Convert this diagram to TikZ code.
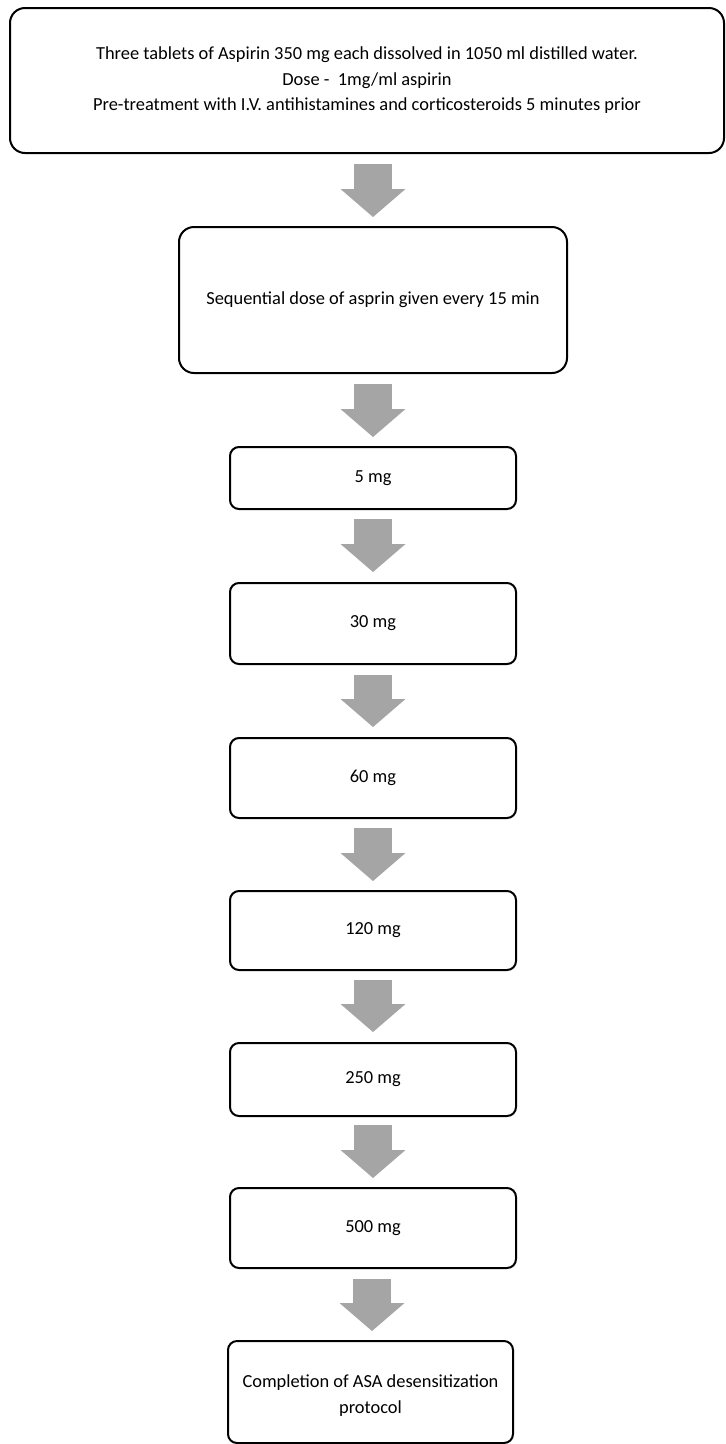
\documentclass[tikz,border=0pt]{standalone}
\usepackage{fontspec}
\setmainfont{Carlito}
\usepackage{tikz}
\usetikzlibrary{arrows.meta,calc}
\definecolor{flowgray}{RGB}{165,165,165}
\tikzset{
  % rounded step boxes of the protocol
  stepbox/.style={draw=black, line width=2pt, fill=white, rounded corners=9pt,
    inner sep=0pt, align=center, minimum width=286pt,
    font=\fontsize{18.4}{25.5}\selectfont},
  widebox/.style={stepbox, rounded corners=15pt},
  % fat grey block arrows between steps
  flowarrow/.style={line width=38pt, flowgray,
    -{Triangle[length=28pt, width=65pt, line width=0pt]}},
}
\begin{document}
\begin{tikzpicture}[x=1pt, y=-1pt]
    \useasboundingbox (0,0) rectangle (726,1444);
    % --- preparation and start of the dosing ---
    \node[widebox, minimum width=714pt, minimum height=145pt] (prep) at (367,80.5)
      {Three tablets of Aspirin 350 mg each dissolved in 1050 ml distilled water.\\
       Dose -\ \ 1mg/ml aspirin\\
       Pre-treatment with I.V. antihistamines and corticosteroids 5 minutes prior};
    \node[widebox, minimum width=388pt, minimum height=146pt] (seq) at (373,300)
      {Sequential dose of asprin given every 15 min};
    % --- the doses, one box each ---
    \node[stepbox, minimum height=62pt] (d5)   at (373,478)    {5 mg};
    \node[stepbox, minimum height=81pt] (d30)  at (373,623.5)  {30 mg};
    \node[stepbox, minimum height=80pt] (d60)  at (373,778)    {60 mg};
    \node[stepbox, minimum height=79pt] (d120) at (373,930.5)  {120 mg};
    \node[stepbox, minimum height=73pt] (d250) at (373,1079.5) {250 mg};
    \node[stepbox, minimum height=80pt] (d500) at (373,1228)   {500 mg};
    \node[stepbox, minimum width=285pt, minimum height=102pt] (done) at (370.5,1392)
      {\\[-6pt]Completion of ASA desensitization\\protocol};
    % --- block arrows ---
    \draw[flowarrow] ([yshift=-10pt]seq.north |- prep.south) -- ([yshift=9pt]seq.north);
    \draw[flowarrow] ([yshift=-10pt]seq.south) -- ([yshift=9pt]d5.north);
    \draw[flowarrow] ([yshift=-9pt]d5.south) -- ([yshift=10pt]d30.north);
    \draw[flowarrow] ([yshift=-10pt]d30.south) -- ([yshift=10pt]d60.north);
    \draw[flowarrow] ([yshift=-9pt]d60.south) -- ([yshift=9pt]d120.north);
    \draw[flowarrow] ([yshift=-9pt]d120.south) -- ([yshift=10pt]d250.north);
    \draw[flowarrow] ([yshift=-8pt]d250.south) -- ([yshift=9pt]d500.north);
    \draw[flowarrow] ([xshift=-1pt, yshift=-10pt]d500.south)
      -- ([xshift=-1pt, yshift=9pt]d500.south |- done.north);
  \end{tikzpicture}
\end{document}
